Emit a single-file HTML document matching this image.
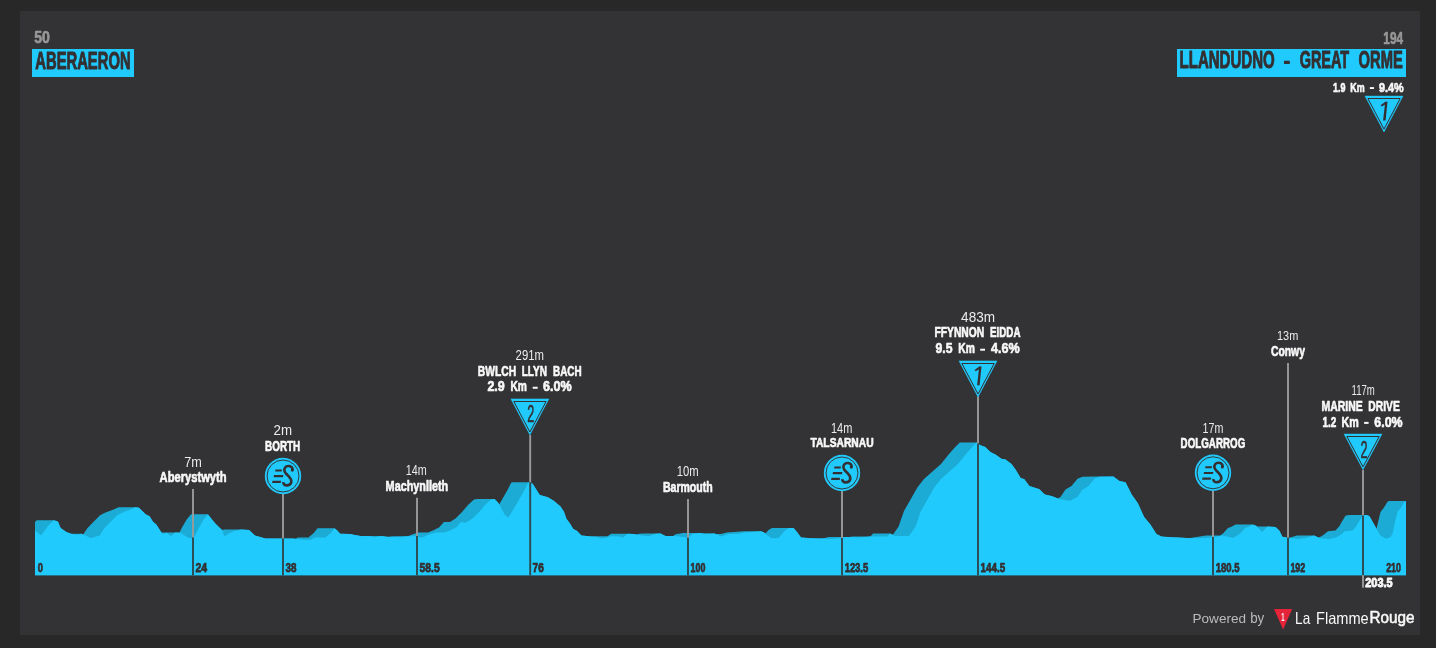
<!DOCTYPE html>
<html><head><meta charset="utf-8"><style>
html,body{margin:0;padding:0;background:#282828;width:1436px;height:648px;overflow:hidden}
svg{display:block;font-family:"Liberation Sans",sans-serif}
</style></head><body>
<svg width="1436" height="648" viewBox="0 0 1436 648">
<rect x="0" y="0" width="1436" height="648" fill="#282828"/>
<rect x="20" y="11" width="1400" height="624" fill="#333335"/>
<g opacity="0.995">
<path d="M35,575.3 L35.0,521.9 L36.5,520.4 L37.0,520.2 L54.0,520.3 L57.5,521.5 L58.0,521.8 L60.5,527.7 L61.0,528.2 L66.5,532.1 L71.0,533.8 L81.5,533.8 L83.0,534.4 L83.5,534.1 L87.5,527.9 L100.0,515.3 L105.5,512.5 L113.0,509.7 L118.5,507.3 L135.5,507.3 L139.0,507.8 L146.0,514.6 L149.5,516.2 L153.0,521.7 L156.5,524.7 L161.5,532.4 L175.0,532.4 L179.0,532.6 L179.5,532.4 L182.0,527.6 L186.5,519.8 L191.0,514.3 L207.5,514.3 L208.0,514.4 L215.5,523.7 L222.0,530.1 L224.0,529.6 L241.0,529.6 L249.0,530.0 L255.0,535.6 L265.5,538.6 L293.0,538.6 L295.0,538.8 L295.5,538.8 L298.0,537.6 L308.5,537.5 L314.0,532.7 L317.5,528.2 L334.5,528.2 L337.5,530.8 L340.0,533.7 L350.0,534.1 L360.5,535.9 L381.0,535.9 L388.0,536.8 L392.0,536.2 L408.5,536.0 L411.5,534.8 L418.5,532.5 L428.0,532.4 L433.5,530.2 L439.0,527.4 L444.0,522.1 L449.5,522.1 L450.0,521.9 L455.5,518.6 L462.5,511.6 L468.0,504.9 L474.0,499.5 L477.5,498.9 L494.5,498.9 L498.0,502.4 L499.0,504.1 L499.5,504.1 L507.5,490.1 L511.0,482.9 L511.5,482.6 L513.5,482.2 L530.5,482.2 L533.0,484.2 L539.5,494.6 L540.0,495.0 L548.0,497.3 L553.5,500.6 L560.5,506.4 L564.0,511.7 L566.5,518.9 L570.0,523.5 L573.0,528.5 L573.5,529.1 L577.0,531.0 L581.5,535.4 L592.0,536.6 L593.5,536.2 L607.5,536.2 L608.0,536.0 L611.0,533.8 L628.0,533.8 L633.5,534.1 L636.5,534.6 L639.0,533.8 L643.5,533.4 L660.5,533.4 L665.5,535.9 L673.0,535.9 L673.5,535.8 L675.5,534.2 L683.0,533.1 L700.0,533.1 L702.5,533.4 L714.5,533.4 L716.0,534.1 L721.0,534.1 L727.0,532.4 L744.5,531.3 L761.0,531.3 L764.5,532.7 L765.5,533.5 L768.5,530.0 L772.0,527.9 L793.5,527.9 L797.0,532.0 L801.0,537.5 L801.5,537.6 L811.0,538.3 L819.0,538.5 L824.5,538.0 L829.0,536.9 L848.5,537.0 L853.0,536.6 L870.5,536.6 L873.0,533.6 L873.5,533.5 L890.0,533.5 L892.5,534.7 L893.0,534.4 L898.5,526.8 L904.0,510.9 L917.5,487.2 L924.0,479.1 L941.0,463.9 L948.0,455.2 L954.5,447.8 L959.5,442.8 L960.0,442.6 L976.5,442.6 L980.0,445.1 L985.0,446.8 L990.5,452.1 L995.5,454.6 L1001.5,458.8 L1005.5,459.6 L1011.5,463.9 L1015.5,469.5 L1020.5,477.8 L1021.0,478.3 L1024.0,479.1 L1024.5,479.5 L1029.5,486.0 L1039.5,489.3 L1044.5,494.3 L1051.5,496.1 L1057.5,498.3 L1058.0,498.3 L1060.5,496.9 L1065.5,489.6 L1071.5,486.0 L1077.5,478.8 L1078.0,478.5 L1082.5,476.7 L1096.5,476.4 L1113.0,476.4 L1113.5,476.6 L1119.5,481.0 L1125.5,482.3 L1131.5,494.2 L1138.0,503.5 L1144.0,516.7 L1150.0,524.1 L1156.5,534.1 L1161.5,536.6 L1187.5,538.1 L1190.0,538.0 L1206.0,535.5 L1220.0,535.5 L1223.0,533.5 L1228.0,528.0 L1231.5,526.8 L1235.5,524.5 L1252.5,524.4 L1256.0,525.7 L1257.0,526.6 L1267.5,526.6 L1275.5,527.1 L1279.0,530.2 L1279.5,530.9 L1282.5,536.7 L1287.5,537.7 L1288.5,537.9 L1289.5,537.7 L1297.0,535.5 L1314.0,535.5 L1318.5,537.4 L1320.5,536.8 L1324.0,534.4 L1328.0,531.3 L1335.5,530.5 L1339.5,525.9 L1341.5,522.3 L1345.5,515.8 L1346.0,515.5 L1350.0,515.0 L1367.0,515.0 L1369.5,516.3 L1376.5,528.7 L1380.5,512.1 L1384.0,507.6 L1387.5,501.8 L1389.0,501.0 L1406.0,501.0 L1406,575.3 Z" fill="#1cadd7"/>
<path d="M35,575.3 L35.0,530.6 L41.1,535.5 L48.1,525.8 L53.7,520.2 L57.9,521.6 L60.6,527.9 L66.2,532.0 L71.8,534.1 L77.4,534.8 L81.5,533.8 L85.7,535.5 L90.6,538.3 L99.6,535.5 L104.5,527.9 L110.1,522.3 L117.0,515.3 L122.6,512.5 L130.0,509.7 L135.4,507.3 L138.9,507.7 L145.9,514.6 L149.4,516.0 L152.9,521.6 L156.3,524.4 L159.8,530.0 L162.6,534.1 L166.8,532.7 L171.0,536.2 L175.1,532.4 L180.7,532.7 L187.7,537.6 L191.9,538.3 L194.6,536.2 L198.8,527.9 L203.7,519.5 L207.9,514.3 L212.0,519.5 L215.5,523.7 L222.5,530.6 L224.2,536.2 L230.4,532.7 L233.9,531.3 L240.9,529.6 L249.2,530.0 L254.8,535.5 L261.8,537.6 L265.3,538.6 L275.7,538.6 L282.7,538.6 L293.1,538.6 L296.6,539.0 L303.6,539.7 L310.5,539.7 L315.0,537.6 L325.4,537.6 L331.0,532.7 L334.5,528.2 L337.3,530.6 L340.1,533.8 L349.8,534.1 L353.3,534.8 L360.3,535.9 L370.7,536.2 L374.2,537.6 L381.2,535.9 L388.1,536.9 L402.0,537.3 L409.0,536.2 L417.0,536.0 L421.6,537.7 L428.5,534.8 L435.5,532.5 L444.7,532.5 L450.5,530.2 L456.3,527.3 L460.9,522.1 L465.6,522.7 L472.5,518.6 L479.4,511.7 L485.2,504.7 L491.0,499.5 L494.5,498.9 L498.0,502.4 L501.4,508.2 L504.9,515.1 L508.4,517.5 L511.9,511.7 L518.9,500.1 L524.7,489.7 L528.1,482.7 L530.5,482.2 L532.8,483.9 L539.7,494.9 L547.8,497.2 L553.6,500.7 L560.6,506.5 L564.0,511.7 L566.3,518.6 L569.8,523.2 L573.3,529.0 L576.8,530.8 L581.4,535.4 L591.8,536.6 L597.6,537.1 L600.0,538.3 L605.6,538.0 L610.4,536.2 L617.4,536.2 L623.0,537.6 L627.9,533.8 L633.4,534.1 L637.6,534.8 L641.8,535.5 L648.7,536.2 L655.7,533.8 L660.6,533.4 L665.5,535.9 L674.5,535.9 L683.6,536.9 L687.7,538.0 L692.6,534.1 L700.0,533.1 L705.4,533.8 L714.5,533.4 L721.5,536.6 L728.4,534.1 L738.2,534.1 L743.7,532.4 L761.2,531.3 L764.6,532.7 L766.7,534.8 L771.6,538.3 L778.6,538.0 L782.0,534.1 L785.5,530.0 L789.0,527.9 L793.5,527.9 L797.0,532.0 L801.1,537.6 L810.9,538.3 L821.3,538.6 L831.8,539.0 L841.5,538.0 L845.7,536.9 L859.6,537.6 L870.1,536.6 L887.5,536.6 L890.1,533.5 L895.2,536.0 L908.8,536.0 L915.6,526.7 L920.7,511.4 L927.4,499.5 L934.2,487.6 L941.0,479.1 L949.5,471.5 L958.0,463.9 L964.8,455.4 L971.6,447.7 L976.7,442.6 L980.1,445.2 L985.2,446.9 L990.3,452.0 L995.4,454.5 L1001.3,458.8 L1005.6,459.6 L1011.5,463.9 L1015.7,469.8 L1020.8,478.3 L1024.2,479.1 L1029.3,485.9 L1039.5,489.3 L1044.6,494.4 L1051.4,496.1 L1059.9,499.2 L1070.0,500.8 L1077.4,497.1 L1082.3,489.7 L1088.5,486.0 L1094.7,478.6 L1099.6,476.7 L1113.2,476.4 L1119.4,481.0 L1125.6,482.3 L1131.7,494.6 L1137.9,503.3 L1144.1,516.9 L1150.2,524.3 L1156.4,534.1 L1161.4,536.6 L1165.0,536.9 L1177.5,537.6 L1185.9,538.0 L1194.2,538.3 L1206.8,538.0 L1213.7,536.9 L1222.8,535.5 L1233.2,538.0 L1240.2,533.4 L1245.1,527.9 L1248.6,526.8 L1252.7,524.4 L1256.2,525.8 L1262.0,532.0 L1267.7,526.6 L1275.4,527.0 L1279.3,530.5 L1282.4,536.7 L1287.8,537.8 L1298.6,539.0 L1306.3,537.8 L1314.0,535.5 L1320.2,538.2 L1329.4,539.0 L1337.2,537.0 L1341.0,534.4 L1344.9,531.3 L1352.6,530.5 L1356.5,525.9 L1358.5,522.3 L1362.7,515.5 L1367.0,515.0 L1369.5,516.3 L1372.9,522.3 L1377.2,529.9 L1380.6,535.8 L1385.7,538.4 L1389.9,537.5 L1392.4,534.1 L1395.0,522.3 L1397.5,512.1 L1400.9,507.8 L1404.3,501.9 L1406.0,501.0 L1406,575.3 Z" fill="#22ccff"/>
<line x1="193" y1="489" x2="193" y2="537.4" stroke="#9c9c9c" stroke-width="1.9"/>
<line x1="193" y1="537.4" x2="193" y2="575.3" stroke="#333333" stroke-opacity="0.85" stroke-width="1.9"/>
<line x1="283" y1="494" x2="283" y2="538.6" stroke="#9c9c9c" stroke-width="1.9"/>
<line x1="283" y1="538.6" x2="283" y2="575.3" stroke="#333333" stroke-opacity="0.85" stroke-width="1.9"/>
<line x1="417" y1="497.8" x2="417" y2="536.0" stroke="#9c9c9c" stroke-width="1.9"/>
<line x1="417" y1="536.0" x2="417" y2="575.3" stroke="#333333" stroke-opacity="0.85" stroke-width="1.9"/>
<line x1="530.2" y1="435" x2="530.2" y2="482.3" stroke="#9c9c9c" stroke-width="1.9"/>
<line x1="530.2" y1="482.3" x2="530.2" y2="575.3" stroke="#333333" stroke-opacity="0.85" stroke-width="1.9"/>
<line x1="688" y1="498.9" x2="688" y2="537.8" stroke="#9c9c9c" stroke-width="1.9"/>
<line x1="688" y1="537.8" x2="688" y2="575.3" stroke="#333333" stroke-opacity="0.85" stroke-width="1.9"/>
<line x1="842" y1="491" x2="842" y2="537.9" stroke="#9c9c9c" stroke-width="1.9"/>
<line x1="842" y1="537.9" x2="842" y2="575.3" stroke="#333333" stroke-opacity="0.85" stroke-width="1.9"/>
<line x1="978" y1="396.3" x2="978" y2="443.6" stroke="#9c9c9c" stroke-width="1.9"/>
<line x1="978" y1="443.6" x2="978" y2="575.3" stroke="#333333" stroke-opacity="0.85" stroke-width="1.9"/>
<line x1="1213" y1="490.8" x2="1213" y2="537.0" stroke="#9c9c9c" stroke-width="1.9"/>
<line x1="1213" y1="537.0" x2="1213" y2="575.3" stroke="#333333" stroke-opacity="0.85" stroke-width="1.9"/>
<line x1="1288" y1="363" x2="1288" y2="537.8" stroke="#9c9c9c" stroke-width="1.9"/>
<line x1="1288" y1="537.8" x2="1288" y2="575.3" stroke="#333333" stroke-opacity="0.85" stroke-width="1.9"/>
<line x1="1363" y1="470" x2="1363" y2="515.5" stroke="#9c9c9c" stroke-width="1.9"/>
<line x1="1363" y1="515.5" x2="1363" y2="575.3" stroke="#333333" stroke-opacity="0.85" stroke-width="1.9"/>
<line x1="1363" y1="575.3" x2="1363" y2="587.8" stroke="#9c9c9c" stroke-width="1.9"/>
<text x="37.67" y="572.42" font-size="12.43" font-weight="bold" fill="#353032" textLength="5.15" lengthAdjust="spacingAndGlyphs" stroke="#353032" stroke-width="0.75" stroke-linejoin="round">0</text>
<text x="195.38" y="572.42" font-size="12.43" font-weight="bold" fill="#353032" textLength="11.65" lengthAdjust="spacingAndGlyphs" stroke="#353032" stroke-width="0.75" stroke-linejoin="round">24</text>
<text x="285.48" y="572.42" font-size="12.43" font-weight="bold" fill="#353032" textLength="10.95" lengthAdjust="spacingAndGlyphs" stroke="#353032" stroke-width="0.75" stroke-linejoin="round">38</text>
<text x="419.57" y="572.42" font-size="12.43" font-weight="bold" fill="#353032" textLength="20.15" lengthAdjust="spacingAndGlyphs" stroke="#353032" stroke-width="0.75" stroke-linejoin="round">58.5</text>
<text x="532.58" y="572.42" font-size="12.43" font-weight="bold" fill="#353032" textLength="11.25" lengthAdjust="spacingAndGlyphs" stroke="#353032" stroke-width="0.75" stroke-linejoin="round">76</text>
<text x="690.58" y="572.42" font-size="12.43" font-weight="bold" fill="#353032" textLength="14.85" lengthAdjust="spacingAndGlyphs" stroke="#353032" stroke-width="0.75" stroke-linejoin="round">100</text>
<text x="844.67" y="572.42" font-size="12.43" font-weight="bold" fill="#353032" textLength="23.55" lengthAdjust="spacingAndGlyphs" stroke="#353032" stroke-width="0.75" stroke-linejoin="round">123.5</text>
<text x="980.58" y="572.42" font-size="12.43" font-weight="bold" fill="#353032" textLength="24.55" lengthAdjust="spacingAndGlyphs" stroke="#353032" stroke-width="0.75" stroke-linejoin="round">144.5</text>
<text x="1215.67" y="572.42" font-size="12.43" font-weight="bold" fill="#353032" textLength="23.75" lengthAdjust="spacingAndGlyphs" stroke="#353032" stroke-width="0.75" stroke-linejoin="round">180.5</text>
<text x="1290.38" y="572.42" font-size="12.43" font-weight="bold" fill="#353032" textLength="14.95" lengthAdjust="spacingAndGlyphs" stroke="#353032" stroke-width="0.75" stroke-linejoin="round">192</text>
<text x="1386.17" y="572.42" font-size="12.43" font-weight="bold" fill="#353032" textLength="14.75" lengthAdjust="spacingAndGlyphs" stroke="#353032" stroke-width="0.75" stroke-linejoin="round">210</text>
<text x="1365.25" y="586.55" font-size="12.79" font-weight="bold" fill="#fafafa" textLength="27.40" lengthAdjust="spacingAndGlyphs" stroke="#fafafa" stroke-width="0.9" stroke-linejoin="round">203.5</text>
<text x="34.23" y="43.47" font-size="16.21" font-weight="bold" fill="#9a9a9a" textLength="15.65" lengthAdjust="spacingAndGlyphs" stroke="#9a9a9a" stroke-width="0.65" stroke-linejoin="round">50</text>
<rect x="32" y="49" width="102" height="28" fill="#22ccff"/>
<text x="35.27" y="68.53" font-size="23.33" font-weight="bold" fill="#353032" textLength="95.35" lengthAdjust="spacingAndGlyphs" stroke="#353032" stroke-width="0.95" stroke-linejoin="round">ABERAERON</text>
<text x="1383.33" y="43.67" font-size="16.50" font-weight="bold" fill="#9a9a9a" textLength="19.66" lengthAdjust="spacingAndGlyphs" stroke="#9a9a9a" stroke-width="0.65" stroke-linejoin="round">194</text>
<rect x="1177" y="49" width="229" height="28" fill="#22ccff"/>
<text x="1179.57" y="68.43" font-size="23.33" font-weight="bold" fill="#353032" textLength="95.14" lengthAdjust="spacingAndGlyphs" stroke="#353032" stroke-width="0.95" stroke-linejoin="round">LLANDUDNO</text>
<rect x="1284.00" y="60.74" width="5.80" height="3.23" fill="#353032"/>
<text x="1299.67" y="68.43" font-size="23.33" font-weight="bold" fill="#353032" textLength="49.55" lengthAdjust="spacingAndGlyphs" stroke="#353032" stroke-width="0.95" stroke-linejoin="round">GREAT</text>
<text x="1358.57" y="68.43" font-size="23.33" font-weight="bold" fill="#353032" textLength="44.15" lengthAdjust="spacingAndGlyphs" stroke="#353032" stroke-width="0.95" stroke-linejoin="round">ORME</text>
<text x="1333.03" y="91.58" font-size="13.59" font-weight="bold" fill="#fafafa" textLength="12.45" lengthAdjust="spacingAndGlyphs" stroke="#fafafa" stroke-width="0.65" stroke-linejoin="round">1.9</text>
<text x="1350.33" y="91.58" font-size="13.59" font-weight="bold" fill="#fafafa" textLength="14.35" lengthAdjust="spacingAndGlyphs" stroke="#fafafa" stroke-width="0.65" stroke-linejoin="round">Km</text>
<rect x="1369.80" y="87.10" width="4.20" height="1.90" fill="#fafafa"/>
<text x="1379.03" y="91.58" font-size="13.59" font-weight="bold" fill="#fafafa" textLength="24.65" lengthAdjust="spacingAndGlyphs" stroke="#fafafa" stroke-width="0.65" stroke-linejoin="round">9.4%</text>
<path d="M1365.0,96.1 L1403.0,96.1 L1384.0,132.0 Z" fill="#22ccff" stroke="#22ccff" stroke-width="0.5" stroke-linejoin="round"/><path d="M1367.9,98.5 L1400.2,98.5 L1384.0,129.1 Z" fill="none" stroke="#353032" stroke-width="1" stroke-linejoin="miter"/><g transform="translate(1384,96.1)" fill="#353032"><path d="M1.2,5.6 L3.5,5.6 L1.6,24.3 L-0.9,24.3 Z"/><path d="M1.3,5.6 L2.6,6.0 L2.2,7.9 L-2.4,10.3 L-3.4,9.1 Z"/></g>
<text x="184.30" y="467.10" font-size="15.26" font-weight="normal" fill="#ededed" textLength="17.60" lengthAdjust="spacingAndGlyphs">7m</text>
<text x="159.62" y="482.28" font-size="13.74" font-weight="bold" fill="#fafafa" textLength="66.94" lengthAdjust="spacingAndGlyphs" stroke="#fafafa" stroke-width="0.65" stroke-linejoin="round">Aberystwyth</text>
<text x="273.50" y="435.40" font-size="14.83" font-weight="normal" fill="#ededed" textLength="18.50" lengthAdjust="spacingAndGlyphs">2m</text>
<text x="265.12" y="450.57" font-size="14.32" font-weight="bold" fill="#fafafa" textLength="35.15" lengthAdjust="spacingAndGlyphs" stroke="#fafafa" stroke-width="0.65" stroke-linejoin="round">BORTH</text>
<text x="405.80" y="475.20" font-size="15.12" font-weight="normal" fill="#ededed" textLength="21.00" lengthAdjust="spacingAndGlyphs">14m</text>
<text x="385.62" y="490.68" font-size="14.46" font-weight="bold" fill="#fafafa" textLength="62.55" lengthAdjust="spacingAndGlyphs" stroke="#fafafa" stroke-width="0.65" stroke-linejoin="round">Machynlleth</text>
<text x="515.60" y="360.20" font-size="14.83" font-weight="normal" fill="#ededed" textLength="28.41" lengthAdjust="spacingAndGlyphs">291m</text>
<text x="477.82" y="375.57" font-size="14.61" font-weight="bold" fill="#fafafa" textLength="38.25" lengthAdjust="spacingAndGlyphs" stroke="#fafafa" stroke-width="0.65" stroke-linejoin="round">BWLCH</text>
<text x="521.73" y="375.57" font-size="14.61" font-weight="bold" fill="#fafafa" textLength="25.25" lengthAdjust="spacingAndGlyphs" stroke="#fafafa" stroke-width="0.65" stroke-linejoin="round">LLYN</text>
<text x="553.03" y="375.57" font-size="14.61" font-weight="bold" fill="#fafafa" textLength="28.65" lengthAdjust="spacingAndGlyphs" stroke="#fafafa" stroke-width="0.65" stroke-linejoin="round">BACH</text>
<text x="487.43" y="391.48" font-size="14.32" font-weight="bold" fill="#fafafa" textLength="17.35" lengthAdjust="spacingAndGlyphs" stroke="#fafafa" stroke-width="0.65" stroke-linejoin="round">2.9</text>
<text x="510.43" y="391.48" font-size="14.32" font-weight="bold" fill="#fafafa" textLength="16.45" lengthAdjust="spacingAndGlyphs" stroke="#fafafa" stroke-width="0.65" stroke-linejoin="round">Km</text>
<rect x="532.70" y="386.76" width="5.00" height="2.00" fill="#fafafa"/>
<text x="543.03" y="391.48" font-size="14.32" font-weight="bold" fill="#fafafa" textLength="28.55" lengthAdjust="spacingAndGlyphs" stroke="#fafafa" stroke-width="0.65" stroke-linejoin="round">6.0%</text>
<text x="676.80" y="476.00" font-size="14.53" font-weight="normal" fill="#ededed" textLength="22.00" lengthAdjust="spacingAndGlyphs">10m</text>
<text x="662.93" y="491.88" font-size="14.61" font-weight="bold" fill="#fafafa" textLength="49.75" lengthAdjust="spacingAndGlyphs" stroke="#fafafa" stroke-width="0.65" stroke-linejoin="round">Barmouth</text>
<text x="831.00" y="432.50" font-size="14.53" font-weight="normal" fill="#ededed" textLength="21.30" lengthAdjust="spacingAndGlyphs">14m</text>
<text x="810.43" y="447.48" font-size="13.30" font-weight="bold" fill="#fafafa" textLength="63.24" lengthAdjust="spacingAndGlyphs" stroke="#fafafa" stroke-width="0.65" stroke-linejoin="round">TALSARNAU</text>
<text x="961.10" y="321.90" font-size="14.39" font-weight="normal" fill="#ededed" textLength="33.91" lengthAdjust="spacingAndGlyphs">483m</text>
<text x="934.43" y="337.38" font-size="14.46" font-weight="bold" fill="#fafafa" textLength="49.85" lengthAdjust="spacingAndGlyphs" stroke="#fafafa" stroke-width="0.65" stroke-linejoin="round">FFYNNON</text>
<text x="990.03" y="337.38" font-size="14.46" font-weight="bold" fill="#fafafa" textLength="30.45" lengthAdjust="spacingAndGlyphs" stroke="#fafafa" stroke-width="0.65" stroke-linejoin="round">EIDDA</text>
<text x="935.53" y="353.48" font-size="14.46" font-weight="bold" fill="#fafafa" textLength="16.95" lengthAdjust="spacingAndGlyphs" stroke="#fafafa" stroke-width="0.65" stroke-linejoin="round">9.5</text>
<text x="958.23" y="353.48" font-size="14.46" font-weight="bold" fill="#fafafa" textLength="16.55" lengthAdjust="spacingAndGlyphs" stroke="#fafafa" stroke-width="0.65" stroke-linejoin="round">Km</text>
<rect x="980.20" y="348.71" width="4.80" height="2.01" fill="#fafafa"/>
<text x="991.12" y="353.48" font-size="14.46" font-weight="bold" fill="#fafafa" textLength="28.65" lengthAdjust="spacingAndGlyphs" stroke="#fafafa" stroke-width="0.65" stroke-linejoin="round">4.6%</text>
<text x="1202.50" y="432.50" font-size="14.10" font-weight="normal" fill="#ededed" textLength="20.80" lengthAdjust="spacingAndGlyphs">17m</text>
<text x="1180.62" y="447.98" font-size="14.03" font-weight="bold" fill="#fafafa" textLength="64.65" lengthAdjust="spacingAndGlyphs" stroke="#fafafa" stroke-width="0.65" stroke-linejoin="round">DOLGARROG</text>
<text x="1277.00" y="340.00" font-size="13.66" font-weight="normal" fill="#ededed" textLength="21.30" lengthAdjust="spacingAndGlyphs">13m</text>
<text x="1270.92" y="356.18" font-size="13.74" font-weight="bold" fill="#fafafa" textLength="34.05" lengthAdjust="spacingAndGlyphs" stroke="#fafafa" stroke-width="0.65" stroke-linejoin="round">Conwy</text>
<text x="1351.50" y="394.80" font-size="14.53" font-weight="normal" fill="#ededed" textLength="23.30" lengthAdjust="spacingAndGlyphs">117m</text>
<text x="1321.62" y="410.57" font-size="14.17" font-weight="bold" fill="#fafafa" textLength="41.15" lengthAdjust="spacingAndGlyphs" stroke="#fafafa" stroke-width="0.65" stroke-linejoin="round">MARINE</text>
<text x="1368.33" y="410.57" font-size="14.17" font-weight="bold" fill="#fafafa" textLength="31.45" lengthAdjust="spacingAndGlyphs" stroke="#fafafa" stroke-width="0.65" stroke-linejoin="round">DRIVE</text>
<text x="1322.53" y="426.57" font-size="14.17" font-weight="bold" fill="#fafafa" textLength="13.85" lengthAdjust="spacingAndGlyphs" stroke="#fafafa" stroke-width="0.65" stroke-linejoin="round">1.2</text>
<text x="1341.42" y="426.57" font-size="14.17" font-weight="bold" fill="#fafafa" textLength="17.25" lengthAdjust="spacingAndGlyphs" stroke="#fafafa" stroke-width="0.65" stroke-linejoin="round">Km</text>
<rect x="1364.10" y="421.91" width="4.50" height="1.98" fill="#fafafa"/>
<text x="1374.33" y="426.57" font-size="14.17" font-weight="bold" fill="#fafafa" textLength="28.25" lengthAdjust="spacingAndGlyphs" stroke="#fafafa" stroke-width="0.65" stroke-linejoin="round">6.0%</text>
<path d="M510.9,398.9 L548.9,398.9 L529.9,434.9 Z" fill="#22ccff" stroke="#22ccff" stroke-width="0.5" stroke-linejoin="round"/><path d="M513.8,401.5 L546.1,401.5 L529.9,432.0 Z" fill="none" stroke="#353032" stroke-width="1" stroke-linejoin="miter"/><text x="527.30" y="422.30" font-size="24.71" font-weight="normal" fill="#353032" textLength="7.10" lengthAdjust="spacingAndGlyphs" stroke="#353032" stroke-width="0.6" stroke-linejoin="round">2</text>
<path d="M959.0,360.9 L997.0,360.9 L978.0,396.9 Z" fill="#22ccff" stroke="#22ccff" stroke-width="0.5" stroke-linejoin="round"/><path d="M961.9,363.5 L994.2,363.5 L978.0,394.0 Z" fill="none" stroke="#353032" stroke-width="1" stroke-linejoin="miter"/><g transform="translate(978,360.9)" fill="#353032"><path d="M1.2,5.6 L3.5,5.6 L1.6,24.3 L-0.9,24.3 Z"/><path d="M1.3,5.6 L2.6,6.0 L2.2,7.9 L-2.4,10.3 L-3.4,9.1 Z"/></g>
<path d="M1344.0,434.1 L1382.0,434.1 L1363.0,469.7 Z" fill="#22ccff" stroke="#22ccff" stroke-width="0.5" stroke-linejoin="round"/><path d="M1346.9,436.5 L1379.2,436.5 L1363.0,466.8 Z" fill="none" stroke="#353032" stroke-width="1" stroke-linejoin="miter"/><text x="1360.40" y="457.50" font-size="24.71" font-weight="normal" fill="#353032" textLength="7.10" lengthAdjust="spacingAndGlyphs" stroke="#353032" stroke-width="0.6" stroke-linejoin="round">2</text>
<circle cx="283" cy="476" r="18.2" fill="#22ccff"/><circle cx="283" cy="476" r="16.0" fill="none" stroke="#353032" stroke-width="0.95"/><g transform="translate(283,476)" fill="#353032"><path d="M-7.5,-6.5 L-1.0,-6.5 L-1.4,-4.5 L-7.9,-4.5 Z"/><path d="M-9.0,-0.9 L0.4,-0.9 L0.0,1.2 L-9.4,1.2 Z"/><path d="M-10.5,4.7 L-1.9,4.7 L-2.3,6.9 L-10.9,6.9 Z"/><circle cx="9.3" cy="-5.9" r="1.55"/></g><path transform="translate(283,476)" d="M9.6,-6.0 C9.9,-8.6 7.8,-10.0 5.4,-10.0 C2.6,-10.0 0.9,-7.8 1.5,-5.0 C2.1,-2.4 4.6,-1.0 6.2,0.8 C7.8,2.6 8.8,4.2 8.2,6.4 C7.6,8.6 5.6,9.4 3.6,9.4 C1.6,9.4 0.2,8.2 0.4,6.2" fill="none" stroke="#353032" stroke-width="2.6"/>
<circle cx="842" cy="473" r="18.2" fill="#22ccff"/><circle cx="842" cy="473" r="16.0" fill="none" stroke="#353032" stroke-width="0.95"/><g transform="translate(842,473)" fill="#353032"><path d="M-7.5,-6.5 L-1.0,-6.5 L-1.4,-4.5 L-7.9,-4.5 Z"/><path d="M-9.0,-0.9 L0.4,-0.9 L0.0,1.2 L-9.4,1.2 Z"/><path d="M-10.5,4.7 L-1.9,4.7 L-2.3,6.9 L-10.9,6.9 Z"/><circle cx="9.3" cy="-5.9" r="1.55"/></g><path transform="translate(842,473)" d="M9.6,-6.0 C9.9,-8.6 7.8,-10.0 5.4,-10.0 C2.6,-10.0 0.9,-7.8 1.5,-5.0 C2.1,-2.4 4.6,-1.0 6.2,0.8 C7.8,2.6 8.8,4.2 8.2,6.4 C7.6,8.6 5.6,9.4 3.6,9.4 C1.6,9.4 0.2,8.2 0.4,6.2" fill="none" stroke="#353032" stroke-width="2.6"/>
<circle cx="1213" cy="472.8" r="18.2" fill="#22ccff"/><circle cx="1213" cy="472.8" r="16.0" fill="none" stroke="#353032" stroke-width="0.95"/><g transform="translate(1213,472.8)" fill="#353032"><path d="M-7.5,-6.5 L-1.0,-6.5 L-1.4,-4.5 L-7.9,-4.5 Z"/><path d="M-9.0,-0.9 L0.4,-0.9 L0.0,1.2 L-9.4,1.2 Z"/><path d="M-10.5,4.7 L-1.9,4.7 L-2.3,6.9 L-10.9,6.9 Z"/><circle cx="9.3" cy="-5.9" r="1.55"/></g><path transform="translate(1213,472.8)" d="M9.6,-6.0 C9.9,-8.6 7.8,-10.0 5.4,-10.0 C2.6,-10.0 0.9,-7.8 1.5,-5.0 C2.1,-2.4 4.6,-1.0 6.2,0.8 C7.8,2.6 8.8,4.2 8.2,6.4 C7.6,8.6 5.6,9.4 3.6,9.4 C1.6,9.4 0.2,8.2 0.4,6.2" fill="none" stroke="#353032" stroke-width="2.6"/>
<text x="1192.50" y="622.90" font-size="13.66" font-weight="normal" fill="#bdbdbd" textLength="53.60" lengthAdjust="spacingAndGlyphs">Powered</text>
<text x="1250.20" y="622.90" font-size="15.26" font-weight="normal" fill="#bdbdbd" textLength="14.10" lengthAdjust="spacingAndGlyphs">by</text>
<path d="M1274,609 L1292.1,609 L1283.2,629.5 Z" fill="#e8253a"/>
<text x="1281.30" y="620.70" font-size="10.32" font-weight="bold" fill="#ffffff" textLength="3.30" lengthAdjust="spacingAndGlyphs">1</text>
<text x="1295.10" y="623.60" font-size="16.72" font-weight="normal" fill="#fafafa" textLength="15.09" lengthAdjust="spacingAndGlyphs">La</text>
<text x="1316.00" y="623.60" font-size="16.72" font-weight="normal" fill="#fafafa" textLength="52.71" lengthAdjust="spacingAndGlyphs">Flamme</text>
<text x="1369.48" y="623.33" font-size="15.92" font-weight="normal" fill="#fafafa" textLength="44.95" lengthAdjust="spacingAndGlyphs" stroke="#fafafa" stroke-width="0.55" stroke-linejoin="round">Rouge</text>
</g>
</svg>
</body></html>
